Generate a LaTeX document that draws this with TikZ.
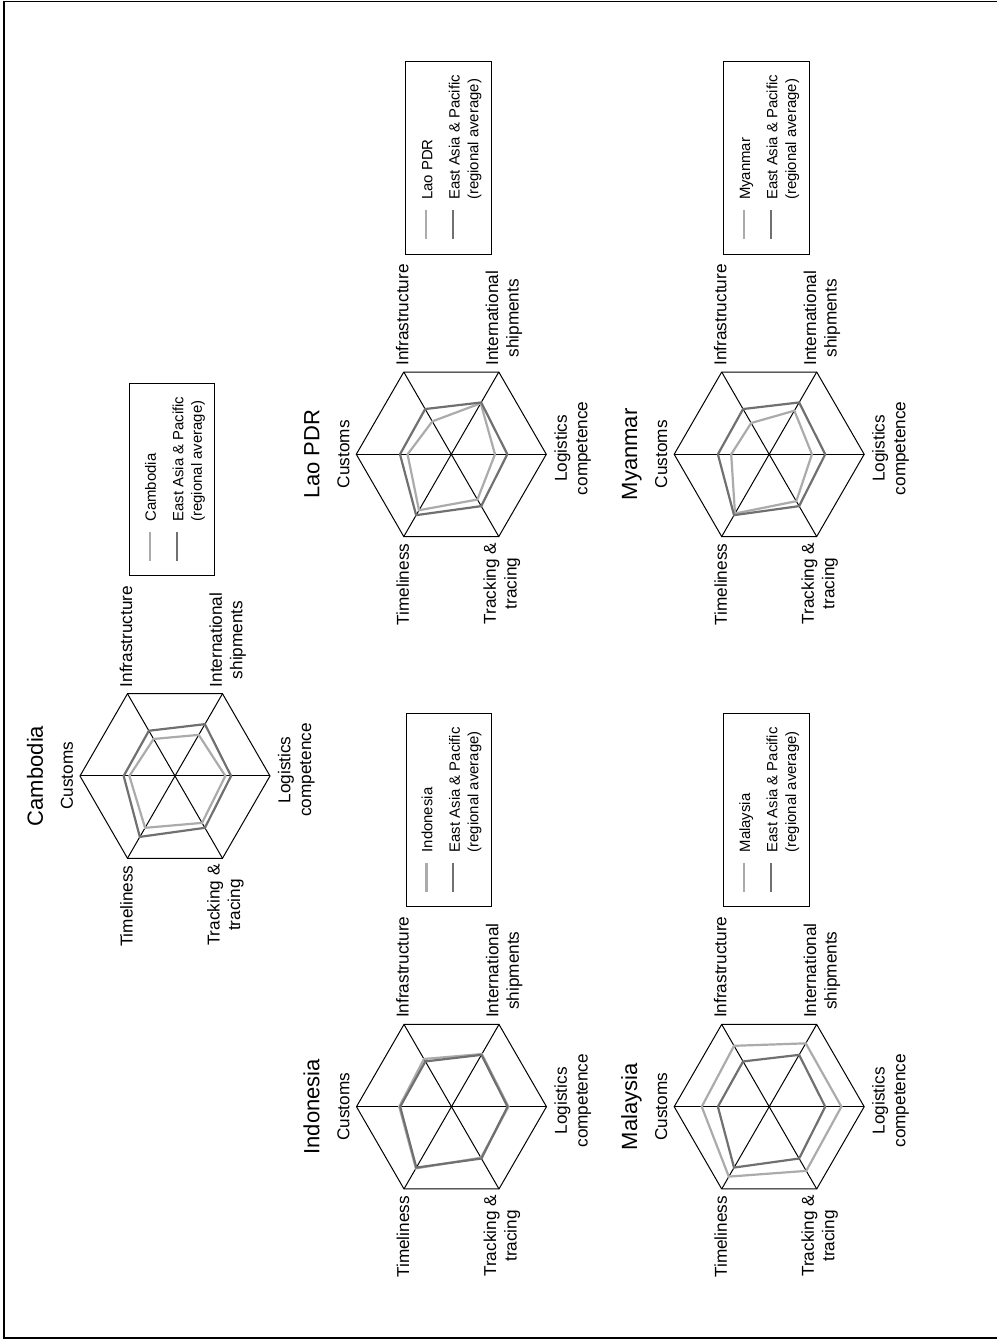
\documentclass[tikz,border=0pt]{standalone}
\usepackage{fontspec}
\setmainfont{Liberation Sans}
\definecolor{countrygray}{HTML}{ABABAB}
\definecolor{regiongray}{HTML}{707070}
\tikzset{
  hexline/.style={black, line width=0.5pt},
  countryline/.style={countrygray, line width=1.1pt},
  regionline/.style={regiongray, line width=1.1pt},
  axislabel/.style={font=\fontsize{8.6}{10.3}\selectfont, inner sep=0pt, align=center},
  charttitle/.style={font=\fontsize{11}{13}\selectfont, inner sep=0pt, anchor=base},
  legendtext/.style={font=\fontsize{7.45}{9}\selectfont, inner sep=0pt, anchor=base west},
  legendbox/.style={draw=black, line width=0.5pt},
  pageframe/.style={black, line width=0.8pt}
}
\newcommand{\regional}{0.54,0.55,0.63,0.59,0.63,0.74}
\newcommand{\lpichart}[4]{%
  \begin{scope}[shift={#1}]
    \foreach \ang in {90,30,...,-210} \draw[hexline] (0,0) -- (\ang:95);
    \draw[hexline] (90:95) -- (30:95) -- (-30:95) -- (-90:95) -- (-150:95) -- (150:95) -- cycle;
    \foreach \v [count=\i] in {#4} \coordinate (#2-c\i) at ({150-60*\i}:{95*\v});
    \foreach \v [count=\i] in \regional \coordinate (#2-r\i) at ({150-60*\i}:{95*\v});
    \draw[countryline] (#2-c1) -- (#2-c2) -- (#2-c3) -- (#2-c4) -- (#2-c5) -- (#2-c6) -- cycle;
    \draw[regionline] (#2-r1) -- (#2-r2) -- (#2-r3) -- (#2-r4) -- (#2-r5) -- (#2-r6) -- cycle;
    \node[charttitle] (#2-title) at (0,132) {#3};
    \node[axislabel, anchor=base] (#2-cus) at (0,102) {Customs};
    \node[axislabel, anchor=west] (#2-inf) at (88.3,49) {Infrastructure};
    \node[axislabel, anchor=west] (#2-int) at (88.3,-52.7) {International\\shipments};
    \node[axislabel, anchor=north] (#2-log) at (6,-102.6) {Logistics\\competence};
    \node[axislabel, anchor=east] (#2-tra) at (-88,-50.5) {Tracking \&\\tracing};
    \node[axislabel, anchor=east] (#2-tim) at (-89,48.5) {Timeliness};
    \draw[legendbox] (200,-40) rectangle (392.7,45.3);
    \draw[countryline] (215,24.9) -- (244,24.9);
    \draw[regionline] (215,-1.8) -- (244,-1.8);
    \node[legendtext] (#2-leg1) at (254,19) {#3};
    \node[legendtext] (#2-leg2) at (254,-8.3) {East Asia \& Pacific};
    \node[legendtext] (#2-leg3) at (254,-27) {(regional average)};
  \end{scope}}

\begin{document}
\begin{tikzpicture}[x=0.5pt,y=0.5pt]
\begin{scope}[rotate=90, transform shape]
  \useasboundingbox (0,0) rectangle (1339,997);
  \draw[pageframe] (1,0) -- (1,993) -- (1337.5,993) -- (1337.5,0);
  \lpichart{(563,822)}{camb}{Cambodia}{0.48,0.45,0.50,0.53,0.57,0.63}
  \lpichart{(232.3,545.5)}{indo}{Indonesia}{0.55,0.58,0.64,0.60,0.62,0.75}
  \lpichart{(884.7,545.7)}{lao}{Lao PDR}{0.46,0.40,0.62,0.46,0.55,0.68}
  \lpichart{(232.3,227.8)}{malay}{Malaysia}{0.71,0.74,0.77,0.76,0.78,0.85}
  \lpichart{(884.7,227.8)}{myan}{Myanmar}{0.40,0.38,0.53,0.45,0.57,0.72}
\end{scope}
\end{tikzpicture}
\end{document}
